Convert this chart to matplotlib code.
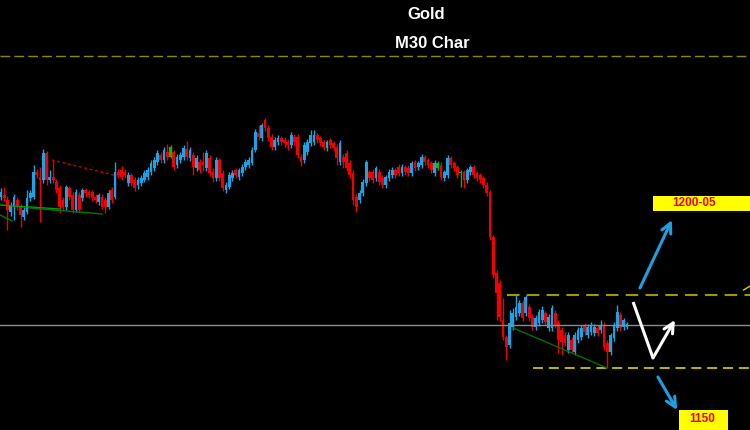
import numpy as np
import matplotlib
matplotlib.use("Agg")
import matplotlib.pyplot as plt
from matplotlib.patches import Rectangle

# Gold M30 candles (open, high, low, close)
opens = [
    1200.3, 1200.5, 1200.0, 1198.8, 1199.3, 1200.0, 1199.3, 1198.3, 1198.8, 1200.2,
    1200.3, 1202.8, 1202.3, 1202.0, 1204.7, 1202.0, 1202.3, 1201.8, 1201.2, 1200.0,
    1199.3, 1201.2, 1200.5, 1199.0, 1200.5, 1200.2, 1201.0, 1200.8, 1200.8, 1200.3,
    1199.8, 1200.3, 1200.0, 1199.3, 1201.0, 1200.3, 1202.8, 1203.0, 1202.8, 1201.7,
    1202.5, 1202.0, 1201.5, 1201.7, 1202.0, 1202.3, 1202.8, 1203.2, 1203.8, 1204.5,
    1204.0, 1204.8, 1204.3, 1204.8, 1203.5, 1204.0, 1204.3, 1205.1, 1204.2, 1204.5,
    1203.2, 1203.8, 1203.8, 1203.2, 1204.2, 1202.8, 1202.2, 1204.0, 1202.7, 1201.0,
    1201.3, 1202.2, 1203.0, 1202.3, 1202.7, 1203.3, 1203.5, 1203.7, 1205.0, 1206.7,
    1206.2, 1208.0, 1207.2, 1206.3, 1205.3, 1205.8, 1206.2, 1206.0, 1205.8, 1205.5,
    1206.3, 1206.3, 1204.3, 1204.0, 1204.8, 1205.7, 1205.8, 1206.5, 1206.2, 1205.8,
    1205.2, 1206.0, 1205.7, 1205.3, 1203.8, 1204.3, 1204.7, 1203.7, 1202.7, 1200.3,
    1200.0, 1200.7, 1201.7, 1202.8, 1202.8, 1202.2, 1202.8, 1202.2, 1201.5, 1202.2,
    1202.5, 1203.0, 1203.3, 1202.7, 1203.3, 1203.2, 1202.7, 1203.8, 1203.3, 1203.5,
    1204.3, 1204.0, 1203.7, 1202.7, 1203.2, 1203.5, 1202.2, 1202.5, 1204.2, 1203.7,
    1203.3, 1202.7, 1202.8, 1202.0, 1202.8, 1203.3, 1202.7, 1202.5, 1202.2, 1201.5,
    1200.8, 1196.3, 1192.7, 1191.7, 1188.0, 1186.3, 1185.5, 1187.3, 1188.3, 1188.7,
    1189.7, 1188.7, 1189.3, 1188.3, 1187.3, 1187.7, 1188.0, 1188.7, 1187.2, 1187.2,
    1188.7, 1187.7, 1187.0, 1186.5, 1185.0, 1186.0, 1184.8, 1186.0, 1186.3, 1187.5,
    1186.5, 1186.8, 1186.7, 1187.2, 1187.0, 1187.5, 1185.7, 1184.8, 1186.2, 1187.2,
    1188.5, 1187.3, 1187.3,
]
highs = [
    1201.2, 1201.3, 1200.4, 1199.8, 1200.6, 1200.3, 1199.6, 1199.3, 1201.0, 1201.0,
    1203.5, 1203.1, 1203.3, 1205.1, 1204.9, 1203.0, 1204.0, 1202.1, 1201.5, 1200.3,
    1201.5, 1201.4, 1200.8, 1201.1, 1200.8, 1201.2, 1201.2, 1201.0, 1201.0, 1200.6,
    1200.7, 1200.6, 1200.3, 1201.0, 1201.3, 1203.8, 1203.1, 1203.4, 1203.1, 1202.8,
    1202.7, 1202.3, 1202.3, 1202.5, 1203.0, 1203.3, 1204.0, 1204.3, 1205.0, 1204.8,
    1205.3, 1205.6, 1205.5, 1205.0, 1204.6, 1204.8, 1205.5, 1205.9, 1205.3, 1204.8,
    1204.5, 1204.1, 1204.8, 1205.0, 1204.5, 1203.2, 1204.3, 1204.2, 1203.0, 1201.8,
    1202.8, 1203.0, 1203.2, 1203.2, 1203.6, 1204.1, 1204.3, 1205.3, 1207.1, 1207.5,
    1207.7, 1208.2, 1207.5, 1206.6, 1206.3, 1206.5, 1206.4, 1206.3, 1206.1, 1206.8,
    1206.6, 1206.6, 1204.6, 1205.8, 1206.1, 1207.0, 1207.0, 1206.7, 1206.4, 1206.0,
    1206.0, 1206.2, 1205.9, 1205.6, 1206.0, 1204.6, 1205.0, 1204.0, 1203.0, 1200.6,
    1201.0, 1202.1, 1204.0, 1203.0, 1203.1, 1203.4, 1203.1, 1202.5, 1202.5, 1203.1,
    1203.3, 1203.2, 1203.6, 1203.6, 1203.5, 1203.5, 1203.9, 1204.0, 1203.9, 1204.6,
    1204.5, 1204.2, 1203.9, 1204.0, 1203.9, 1203.8, 1203.0, 1204.5, 1204.4, 1203.9,
    1203.5, 1203.0, 1203.0, 1203.2, 1203.5, 1203.5, 1202.9, 1202.7, 1202.4, 1201.8,
    1201.0, 1196.5, 1193.0, 1192.0, 1190.2, 1186.5, 1189.0, 1189.2, 1190.5, 1190.0,
    1190.0, 1190.5, 1189.6, 1188.6, 1188.5, 1189.1, 1189.4, 1188.9, 1188.6, 1189.5,
    1189.0, 1188.0, 1187.3, 1186.8, 1186.8, 1186.3, 1186.8, 1187.3, 1187.5, 1187.7,
    1187.6, 1187.8, 1187.6, 1187.5, 1188.0, 1187.8, 1186.0, 1186.7, 1187.8, 1189.5,
    1188.8, 1188.2, 1187.8,
]
lows = [
    1200.0, 1199.9, 1197.0, 1198.4, 1198.0, 1199.0, 1197.3, 1198.0, 1198.6, 1199.9,
    1200.1, 1202.2, 1197.8, 1201.7, 1201.5, 1201.7, 1201.7, 1200.7, 1198.7, 1199.0,
    1199.0, 1200.0, 1198.7, 1198.8, 1198.8, 1199.9, 1200.3, 1200.2, 1199.9, 1199.7,
    1199.5, 1199.1, 1198.7, 1199.1, 1199.7, 1200.1, 1202.2, 1202.0, 1202.2, 1201.4,
    1201.4, 1200.9, 1201.1, 1201.4, 1201.8, 1202.0, 1202.5, 1202.9, 1203.5, 1203.7,
    1203.7, 1204.0, 1204.2, 1203.0, 1203.2, 1203.7, 1204.0, 1204.0, 1203.9, 1202.5,
    1202.9, 1202.7, 1202.9, 1202.9, 1202.4, 1201.8, 1201.9, 1201.9, 1200.9, 1200.7,
    1201.1, 1201.9, 1202.2, 1202.0, 1202.4, 1203.0, 1203.2, 1203.5, 1204.8, 1206.0,
    1205.9, 1206.9, 1205.9, 1205.0, 1205.0, 1205.5, 1205.5, 1205.3, 1205.0, 1205.2,
    1205.4, 1204.2, 1203.4, 1203.7, 1204.5, 1205.4, 1205.5, 1205.7, 1205.4, 1205.0,
    1204.9, 1205.2, 1204.9, 1203.5, 1203.5, 1203.2, 1202.9, 1202.2, 1199.5, 1198.8,
    1199.7, 1200.4, 1201.4, 1201.9, 1201.7, 1201.9, 1201.5, 1201.2, 1201.2, 1201.9,
    1202.2, 1202.2, 1202.4, 1202.4, 1202.5, 1202.4, 1202.4, 1202.9, 1203.0, 1203.2,
    1203.5, 1203.2, 1202.7, 1202.4, 1203.0, 1202.0, 1201.9, 1202.2, 1203.2, 1202.9,
    1202.2, 1201.3, 1201.2, 1201.7, 1202.5, 1202.2, 1201.9, 1201.7, 1201.2, 1200.4,
    1196.0, 1192.2, 1188.0, 1187.9, 1186.0, 1184.0, 1185.2, 1187.0, 1188.0, 1188.4,
    1187.9, 1188.4, 1187.9, 1187.0, 1187.0, 1187.4, 1187.7, 1187.5, 1186.9, 1186.9,
    1187.2, 1184.7, 1184.5, 1185.4, 1184.7, 1184.7, 1184.5, 1185.7, 1186.0, 1186.5,
    1186.2, 1186.5, 1186.4, 1186.4, 1186.7, 1185.0, 1183.2, 1184.5, 1185.9, 1186.9,
    1186.9, 1187.0, 1187.1,
]
closes = [
    1200.8, 1200.2, 1199.0, 1199.5, 1200.3, 1199.3, 1198.5, 1199.0, 1200.2, 1200.7,
    1202.8, 1202.5, 1202.0, 1204.7, 1202.0, 1202.3, 1202.0, 1201.0, 1199.3, 1199.3,
    1201.3, 1200.3, 1199.0, 1200.8, 1199.0, 1201.0, 1200.7, 1200.5, 1200.2, 1200.0,
    1200.5, 1199.3, 1199.3, 1200.7, 1200.0, 1202.8, 1202.5, 1202.3, 1202.5, 1202.5,
    1201.7, 1201.2, 1202.0, 1202.2, 1202.7, 1203.0, 1203.7, 1204.0, 1204.7, 1204.0,
    1205.0, 1204.3, 1205.3, 1203.3, 1204.3, 1204.5, 1205.2, 1204.3, 1205.0, 1203.3,
    1204.2, 1203.0, 1203.5, 1204.7, 1202.7, 1202.2, 1204.0, 1202.2, 1201.2, 1201.5,
    1202.5, 1202.7, 1202.5, 1203.0, 1203.3, 1203.8, 1204.0, 1205.0, 1206.8, 1206.3,
    1207.5, 1207.2, 1206.2, 1205.3, 1206.0, 1206.2, 1205.8, 1205.7, 1205.5, 1206.5,
    1205.8, 1204.5, 1203.8, 1205.5, 1205.8, 1206.5, 1206.5, 1206.0, 1205.7, 1205.3,
    1205.8, 1205.5, 1205.2, 1204.2, 1205.7, 1203.8, 1203.2, 1202.5, 1200.0, 1199.3,
    1200.7, 1201.8, 1203.8, 1202.2, 1202.0, 1203.2, 1201.8, 1201.5, 1202.3, 1202.8,
    1203.0, 1202.5, 1202.7, 1203.3, 1202.8, 1202.7, 1203.7, 1203.2, 1203.7, 1204.3,
    1203.8, 1203.5, 1203.0, 1203.7, 1203.7, 1202.3, 1202.8, 1204.2, 1203.5, 1203.2,
    1202.5, 1202.7, 1202.0, 1203.0, 1203.3, 1202.5, 1202.2, 1202.0, 1201.5, 1200.7,
    1196.3, 1192.5, 1190.7, 1188.3, 1186.3, 1185.3, 1187.7, 1188.7, 1189.3, 1189.7,
    1188.2, 1190.3, 1188.2, 1187.3, 1188.2, 1188.8, 1189.0, 1187.8, 1188.3, 1189.2,
    1187.5, 1186.0, 1185.8, 1185.7, 1186.5, 1185.0, 1186.5, 1187.0, 1187.2, 1186.8,
    1187.3, 1187.5, 1187.3, 1186.7, 1187.5, 1185.3, 1184.8, 1186.5, 1187.5, 1188.8,
    1187.2, 1188.0, 1187.6,
]
green_bars = [52, 134, 141]

# levels and drawings
top_level = 1214.4
resistance = 1190.5
support = 1183.2
last_price = 1187.5
target_up = "1200-05"
target_down = "1150"

o = np.array(opens)
h = np.array(highs)
l = np.array(lows)
c = np.array(closes)
x = np.arange(len(o))

cols = np.where(c >= o, "#1ba3e6", "#f00000").astype(object)
for i in green_bars:
    cols[i] = "#00c000"

fig = plt.figure(figsize=(7.5, 4.3), dpi=100, facecolor="black")
ax = fig.add_axes([0, 0, 1, 1])
ax.set_facecolor("black")
ax.axis("off")

# candles
ax.vlines(x, l, h, colors=list(cols), lw=1)
body = np.maximum(np.abs(c - o), 0.12)
ax.bar(x, body, bottom=np.minimum(o, c), width=0.85, color=list(cols), linewidth=0)

# horizontal levels
ax.axhline(top_level, color="#8a8a00", lw=1, ls=(0, (7, 3)))
ax.axhline(last_price, color="#8c8c8c", lw=1)
ax.hlines(resistance, 155.2, 235, color="#9a9a00", lw=1.5, ls=(0, (6, 3.5)))
ax.hlines(support, 163.2, 235, color="#d8d800", lw=1.2, ls=(0, (6, 3.5)))

# trend lines
ax.plot([-0.3, 18.1], [1199.5, 1199.1], color="#00a000", lw=1)
ax.plot([8.9, 31.0], [1199.2, 1198.6], color="#007800", lw=1)
ax.plot([-0.3, 3.4], [1198.5, 1197.9], color="#007800", lw=1)
ax.plot([15.6, 37.1], [1204.0, 1202.3], color="#cc0000", lw=1, ls=(0, (2, 2)))
ax.plot([157.1, 185.9], [1187.2, 1183.2], color="#006e00", lw=1)
ax.plot([227.8, 229.8], [1191.0, 1191.4], color="#d8d800", lw=1)

# arrows
arr = "->,head_length=0.7,head_width=0.35"
ax.annotate("", xy=(205.8, 1198.0), xytext=(196.0, 1191.2),
            arrowprops=dict(arrowstyle=arr, color="#1e9fe0", lw=2.2, shrinkA=0, shrinkB=0))
ax.plot([193.9, 200.0], [1189.8, 1184.2], color="white", lw=2.2, solid_capstyle="butt")
ax.annotate("", xy=(206.7, 1188.0), xytext=(200.0, 1184.2),
            arrowprops=dict(arrowstyle=arr, color="white", lw=2.2, shrinkA=0, shrinkB=0))
ax.annotate("", xy=(207.4, 1179.0), xytext=(201.5, 1182.3),
            arrowprops=dict(arrowstyle=arr, color="#1e9fe0", lw=2.2, shrinkA=0, shrinkB=0))

# target boxes
ax.add_patch(Rectangle((200.0, 1198.9), 30.0, 1.5, facecolor="#ffff00", edgecolor="none"))
ax.text(212.7, 1199.65, target_up, color="#ee0000", fontsize=8.5, fontweight="bold",
        ha="center", va="center", family="Liberation Sans")
ax.add_patch(Rectangle((208.0, 1177.0), 15.0, 2.0, facecolor="#ffff00", edgecolor="none"))
ax.text(215.2, 1178.1, target_down, color="#ee0000", fontsize=8.5, fontweight="bold",
        ha="center", va="center", family="Liberation Sans")

ax.set_xlim(-0.3, 229.75)
ax.set_ylim(1177, 1220)

fig.text(0.568, 0.967, "Gold", color="white", fontsize=12, fontweight="bold",
         ha="center", va="center", family="Liberation Sans")
fig.text(0.577, 0.900, "M30 Char", color="white", fontsize=12, fontweight="bold",
         ha="center", va="center", family="Liberation Sans")

fig.savefig("out.png", dpi=100, facecolor="black")
